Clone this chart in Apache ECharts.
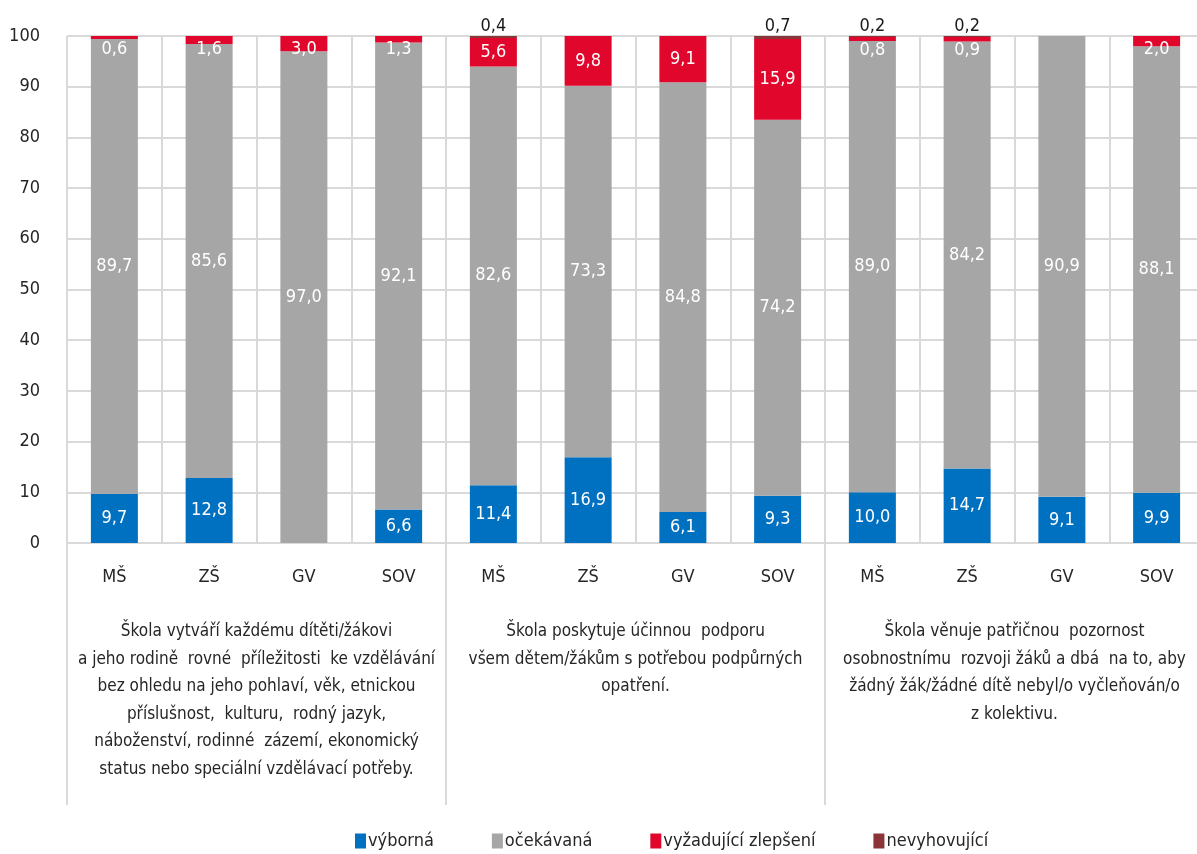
<!DOCTYPE html>
<html>
<head>
<meta charset="utf-8">
<script src="https://cdn.jsdelivr.net/npm/echarts@6/dist/echarts.min.js"></script>
<style>
html, body { margin: 0; padding: 0; background: #fff; }
#chart { width: 1197px; height: 854px; }
</style>
</head>
<body>
<div id="chart"></div>
<script>
var categories = ['MŠ', 'ZŠ', 'GV', 'SOV', 'MŠ', 'ZŠ', 'GV', 'SOV', 'MŠ', 'ZŠ', 'GV', 'SOV'];
var groups = [
    'Škola vytváří každému dítěti/žákovi\na jeho rodině  rovné  příležitosti  ke vzdělávání\nbez ohledu na jeho pohlaví, věk, etnickou\npříslušnost,  kulturu,  rodný jazyk,\nnáboženství, rodinné  zázemí, ekonomický\nstatus nebo speciální vzdělávací potřeby.',
    'Škola poskytuje účinnou  podporu\nvšem dětem/žákům s potřebou podpůrných\nopatření.',
    'Škola věnuje patřičnou  pozornost\nosobnostnímu  rozvoji žáků a dbá  na to, aby\nžádný žák/žádné dítě nebyl/o vyčleňován/o\nz kolektivu.'
];
var vyborna = [9.7, 12.8, 0, 6.6, 11.4, 16.9, 6.1, 9.3, 10.0, 14.7, 9.1, 9.9];
var ocekavana = [89.7, 85.6, 97.0, 92.1, 82.6, 73.3, 84.8, 74.2, 89.0, 84.2, 90.9, 88.1];
var vyzadujici = [0.6, 1.6, 3.0, 1.3, 5.6, 9.8, 9.1, 15.9, 0.8, 0.9, 0, 2.0];
var nevyhovujici = [0, 0, 0, 0, 0.4, 0, 0, 0.7, 0.2, 0.2, 0, 0];
var yTicks = [0, 10, 20, 30, 40, 50, 60, 70, 80, 90, 100];

var FONT = "'Liberation Sans Narrow', 'DejaVu Sans Condensed', sans-serif";

function fmt(p) {
    var v = Array.isArray(p.value) ? p.value[1] : p.value;
    if (!v) return '';
    return v.toFixed(1).replace('.', ',');
}

// small red segments get their label pushed down into the gray part
var redData = vyzadujici.map(function (v) {
    if (v > 0 && v < 4) {
        return { value: v, label: { position: 'insideTop', distance: 4 } };
    }
    return v;
});

var myChart = echarts.init(document.getElementById('chart'));
var option = {
    animation: false,
    textStyle: { fontFamily: FONT },
    grid: { left: 67, top: 36, width: 1137, height: 507, containLabel: false, outerBoundsMode: 'none' },
    legend: {
        left: 355,
        top: 832,
        padding: 0,
        itemWidth: 11,
        itemHeight: 15,
        itemGap: 58,
        icon: 'rect',
        textStyle: { fontSize: 18, color: '#262626', fontFamily: FONT, padding: [0, 0, 0, -3] },
        data: ['výborná', 'očekávaná', 'vyžadující zlepšení', 'nevyhovující']
    },
    xAxis: [{
        type: 'category',
        data: categories,
        axisLine: { lineStyle: { color: '#d9d9d9', width: 2 } },
        axisTick: { show: false },
        splitLine: { show: true, lineStyle: { color: '#d9d9d9', width: 2 } },
        axisLabel: { interval: 0, margin: 25, fontSize: 18, color: '#262626', fontFamily: FONT }
    }, {
        type: 'category',
        data: groups,
        position: 'bottom',
        offset: 0,
        axisLine: { show: false },
        axisTick: { show: true, length: 262, lineStyle: { color: '#d9d9d9', width: 2 } },
        axisLabel: {
            interval: 0, margin: 75, fontSize: 17, lineHeight: 27.5,
            color: '#262626', fontFamily: FONT, align: 'center', verticalAlign: 'top'
        }
    }],
    yAxis: {
        type: 'value',
        min: 0,
        max: 100,
        interval: 10,
        axisLine: { show: false },
        axisTick: { show: false },
        splitLine: { lineStyle: { color: '#d9d9d9', width: 2 } },
        axisLabel: {
            margin: 27, fontSize: 18, color: '#262626', fontFamily: FONT,
            formatter: function (v) { return yTicks.indexOf(v) >= 0 ? String(v) : ''; }
        }
    },
    series: [{
        name: 'výborná',
        type: 'bar',
        stack: 'a',
        barWidth: 47,
        data: vyborna,
        itemStyle: { color: '#0070C0' },
        label: { show: true, position: 'inside', color: '#fff', fontSize: 18, fontFamily: FONT, formatter: fmt }
    }, {
        name: 'očekávaná',
        type: 'bar',
        stack: 'a',
        data: ocekavana,
        itemStyle: { color: '#A6A6A6' },
        label: { show: true, position: 'inside', color: '#fff', fontSize: 18, fontFamily: FONT, formatter: fmt }
    }, {
        name: 'vyžadující zlepšení',
        type: 'bar',
        stack: 'a',
        data: redData,
        itemStyle: { color: '#E0062C' },
        label: { show: true, position: 'inside', color: '#fff', fontSize: 18, fontFamily: FONT, formatter: fmt }
    }, {
        name: 'nevyhovující',
        type: 'bar',
        stack: 'a',
        data: nevyhovujici,
        itemStyle: { color: '#8B3538' },
        label: { show: true, position: 'top', distance: 1, color: '#1a1a1a', fontSize: 18, fontFamily: FONT, formatter: fmt }
    }]
};
myChart.setOption(option);
window.addEventListener('resize', function () {
    myChart.resize();
});
</script>
</body>
</html>
